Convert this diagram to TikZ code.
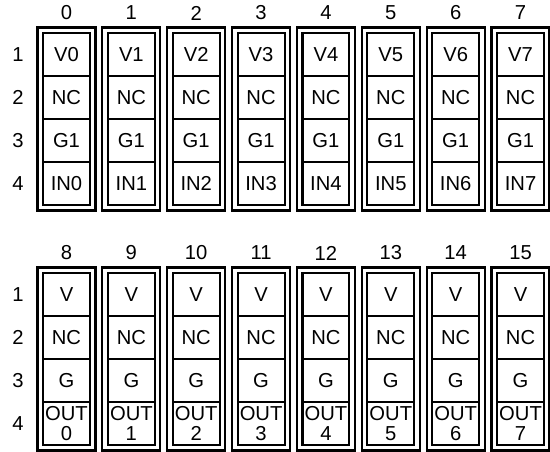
\documentclass[tikz,border=0pt]{standalone}
\usepackage{fontspec}
\setmainfont{Liberation Sans}
\usetikzlibrary{positioning, calc}

\tikzset{
  pino/.style={draw, line width=0.8pt, minimum width=0.94cm, minimum height=0.86cm,
    inner sep=0pt, outer sep=0pt, align=center, font=\fontsize{11.5}{11.5}\selectfont},
  moldura/.style={line width=1.2pt},
  rotulo/.style={font=\fontsize{11.5}{11.5}\selectfont},
}

\newcommand{\conector}[6]{%
  % #1 = indice, #2 = x centro, #3 = y topo, #4 = pino 1, #5 = pino 3, #6 = pino 4
  \node[rotulo] (h#1) at (#2,#3-20) {#1};
  \node[pino] (c#1-1) at (#2,#3+21.5) {#4};
  \node[pino, below=0pt of c#1-1] (c#1-2) {NC};
  \node[pino, below=0pt of c#1-2] (c#1-3) {#5};
  \node[pino, below=0pt of c#1-3] (c#1-4) {#6};
  \draw[moldura] (c#1-1.north west) rectangle (c#1-4.south east);
  \draw[moldura] ($(c#1-1.north west)+(-5.5,-5.5)$) rectangle ($(c#1-4.south east)+(5.5,5.5)$);
}

\begin{document}
\begin{tikzpicture}[x=0.02cm, y=-0.02cm]

    \useasboundingbox (0,0) rectangle (550,452);

    \pgfmathsetmacro{\passo}{64.86}

    % numeros das linhas
    \foreach \g/\yt in {a/33, b/273} {
      \foreach \r in {1,...,4} {
        \node[rotulo] (r\g\r) at (18, \yt+43*\r-21.5) {\r};
      }
    }

    % entradas
    \foreach \k in {0,...,7} {
      \pgfmathsetmacro{\xc}{66.5+\passo*\k}
      \conector{\k}{\xc}{33}{V\k}{G1}{IN\k}
    }

    % saidas
    \foreach \k in {8,...,15} {
      \pgfmathtruncatemacro{\n}{\k-8}
      \pgfmathsetmacro{\xc}{66.5+\passo*\n}
      \conector{\k}{\xc}{273}{V}{G}{OUT\\\n}
    }

\end{tikzpicture}
\end{document}
